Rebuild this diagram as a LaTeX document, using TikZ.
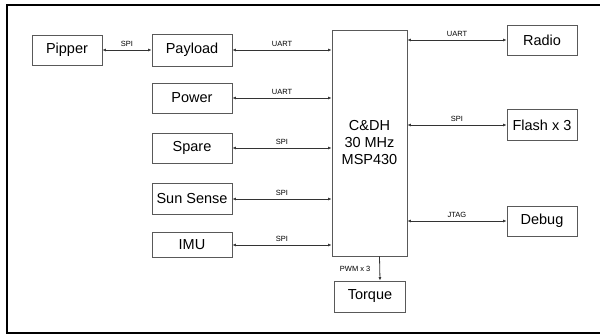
\documentclass[tikz,border=0pt]{standalone}
\usepackage{fontspec}
\setmainfont{Liberation Sans}
\usetikzlibrary{arrows.meta, positioning}

\begin{document}
\begin{tikzpicture}[
  x=1pt, y=-1pt,
  box/.style={draw=black!65, line width=0.9pt, align=center, inner sep=0pt,
              font=\fontsize{14.5}{17}\selectfont, minimum width=80pt, minimum height=30pt},
  side/.style={box, minimum width=70pt},
  arr/.style={{Latex[length=3.5pt,width=3pt]}-{Latex[length=3.5pt,width=3pt]},
              line width=0.8pt, draw=black!80},
  arrone/.style={-{Latex[length=3.5pt,width=3pt]}, line width=0.8pt, draw=black!80},
  lbl/.style={font=\fontsize{7.5}{8}\selectfont, above=1.5pt, inner sep=2pt}
]
  \useasboundingbox (0,0) rectangle (600,336);
  \draw[line width=2.5pt] (7,5) rectangle (604,333);

  % Processor
  \node[box, minimum width=75pt, minimum height=226pt] (cdh) at (369.5,143) {C\&DH\\30 MHz\\MSP430};

  % Left side
  \node[side] (pipper) at (67,50) {Pipper};
  \node[box, minimum height=32pt] (payload) at (192,50) {Payload};
  \node[box] (power) at (192,98) {Power};
  \node[box] (spare) at (192,148) {Spare};
  \node[box, minimum height=31pt] (sun) at (192,199) {Sun Sense};
  \node[box, minimum height=25pt] (imu) at (192,245) {IMU};

  % Right side
  \node[side] (radio) at (542,40) {Radio};
  \node[side, minimum height=31pt] (flash) at (542,125) {Flash x 3};
  \node[side] (debug) at (542,221) {Debug};
  \node[side, minimum width=71pt, minimum height=31pt] (torque) at (370,296.5) {Torque};

  % Arrows
  \draw[arr] (pipper) -- (payload) node[midway, lbl] {SPI};
  \draw[arr] (payload.east) -- (payload.east -| cdh.west) node[midway, lbl] {UART};
  \draw[arr] (power.east) -- (power.east -| cdh.west) node[midway, lbl] {UART};
  \draw[arr] (spare.east) -- (spare.east -| cdh.west) node[midway, lbl] {SPI};
  \draw[arr] (sun.east) -- (sun.east -| cdh.west) node[midway, lbl] {SPI};
  \draw[arr] (imu.east) -- (imu.east -| cdh.west) node[midway, lbl] {SPI};
  \draw[arr] (radio.west -| cdh.east) -- (radio.west) node[midway, lbl] {UART};
  \draw[arr] (flash.west -| cdh.east) -- (flash.west) node[midway, lbl] {SPI};
  \draw[arr] (debug.west -| cdh.east) -- (debug.west) node[midway, lbl] {JTAG};
  \draw[arrone] ([xshift=10pt]cdh.south) -- ([xshift=10pt]torque.north)
    node[midway, left=7pt, font=\fontsize{7.5}{8}\selectfont, inner sep=2pt] {PWM x 3};
\end{tikzpicture}
\end{document}
